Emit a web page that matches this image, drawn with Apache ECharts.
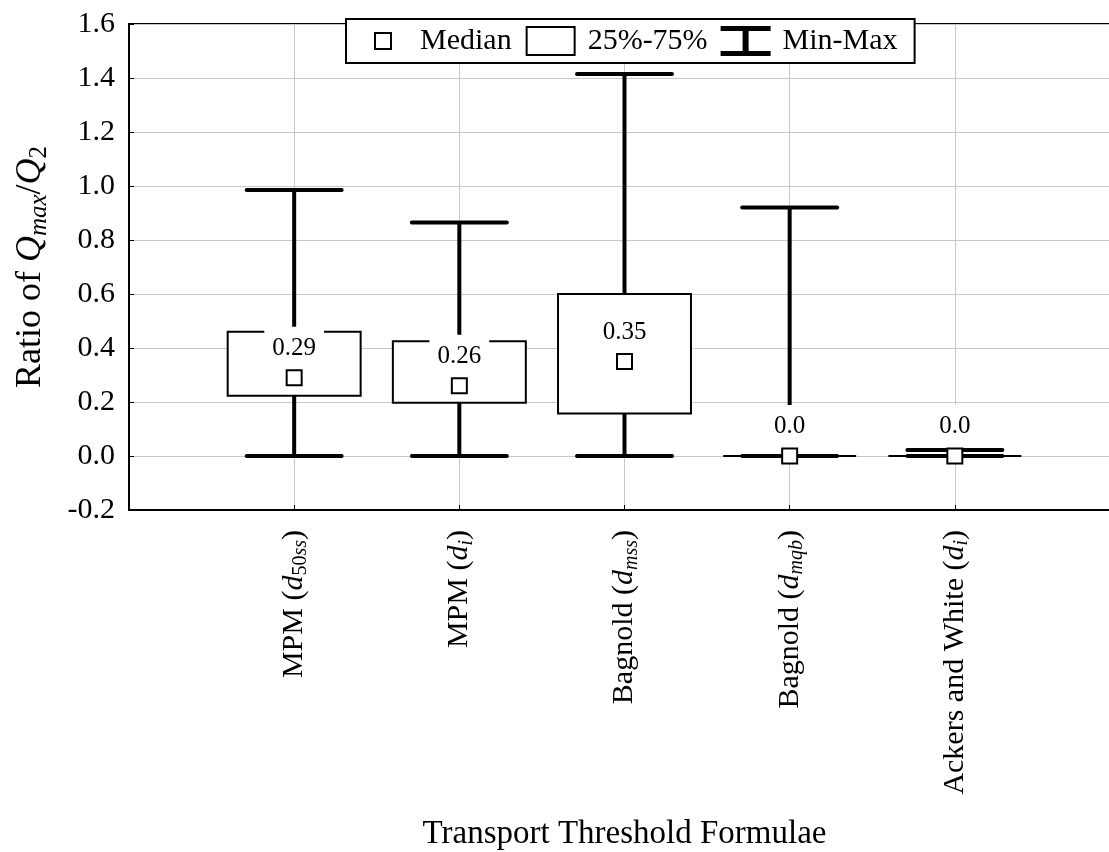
<!DOCTYPE html>
<html>
<head>
<meta charset="utf-8">
<script src="https://cdn.jsdelivr.net/npm/echarts@6/dist/echarts.min.js"></script>
<style>
  html, body { margin: 0; padding: 0; background: #fff; }
  #chart { width: 1109px; height: 852px; }
</style>
</head>
<body>
<div id="chart"></div>
<script>
// Transport threshold formulae (rich-text markup for italic symbols and subscripts)
const categories = [
  'MPM ({it|d}{sub|50}{subi|ss})',
  'MPM ({it|d}{subi|i})',
  'Bagnold ({it|d}{subi|mss})',
  'Bagnold ({it|d}{subi|mqb})',
  'Ackers and White ({it|d}{subi|i})'
];
// Ratio Qmax/Q2 statistics per formula
const minValues    = [0.0, 0.0, 0.0, 0.0, 0.0];
const q1Values     = [0.223, 0.197, 0.157, 0.0, 0.0];
const medianValues = [0.29, 0.26, 0.35, 0.0, 0.0];
const q3Values     = [0.46, 0.425, 0.60, 0.0, 0.0];
const maxValues    = [0.985, 0.865, 1.415, 0.92, 0.022];
const yTicks = { min: -0.2, max: 1.6, interval: 0.2 };

const FONT = '"Liberation Serif", "Times New Roman", serif';

// category axis padded with empty slots at both ends
const axisCategories = [''].concat(categories, ['']);

const subRich = {
  it:   { fontFamily: FONT, fontSize: 30, fontStyle: 'italic', color: '#000', lineHeight: 34 },
  sub:  { fontFamily: FONT, fontSize: 20, color: '#000', verticalAlign: 'bottom', lineHeight: 20 },
  subi: { fontFamily: FONT, fontSize: 20, fontStyle: 'italic', color: '#000', verticalAlign: 'bottom', lineHeight: 20 }
};

function fmtMedian(v) {
  return v.toFixed(2).replace(/0$/, '');
}

const rows = categories.map((c, i) => [i + 1, minValues[i], q1Values[i], medianValues[i], q3Values[i], maxValues[i]]);

const BOX_HALF = 0.4025;
const CAP_HALF = 0.2875;

function whiskerItem(params, api) {
  const x = api.value(0);
  const band = api.size([1, 0])[0];
  const pMin = api.coord([x, api.value(1)]);
  const pMax = api.coord([x, api.value(5)]);
  const cap = band * CAP_HALF;
  const style = { stroke: '#000', lineWidth: 4, lineCap: 'round' };
  return {
    type: 'group',
    children: [
      { type: 'line', shape: { x1: pMin[0], y1: pMin[1], x2: pMax[0], y2: pMax[1] }, style: { stroke: '#000', lineWidth: 4 } },
      { type: 'line', shape: { x1: pMin[0] - cap, y1: pMin[1], x2: pMin[0] + cap, y2: pMin[1] }, style },
      { type: 'line', shape: { x1: pMax[0] - cap, y1: pMax[1], x2: pMax[0] + cap, y2: pMax[1] }, style }
    ]
  };
}

function boxItem(params, api) {
  const x = api.value(0);
  const band = api.size([1, 0])[0];
  const pQ1 = api.coord([x, api.value(2)]);
  const pQ3 = api.coord([x, api.value(4)]);
  const half = band * BOX_HALF;
  return {
    type: 'rect',
    shape: { x: pQ1[0] - half, y: pQ3[1], width: half * 2, height: pQ1[1] - pQ3[1] },
    style: { fill: '#fff', stroke: '#000', lineWidth: 2 }
  };
}

function medianItem(params, api) {
  const x = api.value(0);
  const v = api.value(3);
  const p = api.coord([x, v]);
  return {
    type: 'group',
    children: [
      {
        type: 'text',
        z2: 10,
        style: {
          x: p[0], y: p[1] - 8,
          text: fmtMedian(v),
          font: '25px ' + FONT,
          fill: '#000',
          align: 'center',
          verticalAlign: 'bottom',
          backgroundColor: '#fff',
          padding: [9, 8, 9, 8]
        }
      },
      {
        type: 'rect',
        z2: 20,
        shape: { x: p[0] - 7.5, y: p[1] - 7.5, width: 15, height: 15 },
        style: { fill: '#fff', stroke: '#000', lineWidth: 2 }
      }
    ]
  };
}

const chart = echarts.init(document.getElementById('chart'), null, { renderer: 'canvas' });

chart.setOption({
  animation: false,
  backgroundColor: '#fff',
  grid: {
    left: 129, top: 24, right: -11, bottom: 342,
    containLabel: false,
    outerBoundsMode: 'none',
    show: true, borderColor: '#000', borderWidth: 2, backgroundColor: 'transparent'
  },
  legend: {
    left: 346, top: 19,
    padding: [6, 17, 6, 11],
    itemWidth: 50, itemHeight: 30, itemGap: 13,
    backgroundColor: '#fff', borderColor: '#000', borderWidth: 2, borderRadius: 0,
    selectedMode: false,
    textStyle: { fontFamily: FONT, fontSize: 30, color: '#000', padding: [0, 0, 0, 7] },
    data: [
      { name: 'Median', icon: 'path://M0,0M50,30M17,7h16v16h-16z',
        itemStyle: { color: '#fff', borderColor: '#000', borderWidth: 2 } },
      { name: '25%-75%', icon: 'path://M0,0M50,30M1,1h48v28h-48z',
        itemStyle: { color: '#fff', borderColor: '#000', borderWidth: 2 } },
      { name: 'Min-Max', icon: 'path://M0,0h50v5h-22v20h22v5h-50v-5h22v-20h-22z',
        itemStyle: { color: '#000', borderWidth: 0 } }
    ]
  },
  xAxis: {
    type: 'category',
    data: axisCategories,
    boundaryGap: false,
    name: 'Transport Threshold Formulae',
    nameLocation: 'middle',
    nameGap: 308,
    nameTextStyle: { fontFamily: FONT, fontSize: 33, color: '#000' },
    axisLine: { show: true, onZero: false, lineStyle: { color: '#000', width: 2 } },
    axisTick: { show: true, inside: true, length: 5, interval: 0, lineStyle: { color: '#000', width: 1 } },
    splitLine: { show: true, interval: 0, lineStyle: { color: '#c8c8c8', width: 1 } },
    axisLabel: {
      interval: 0, rotate: 90, margin: 20,
      fontFamily: FONT, fontSize: 30, color: '#000',
      rich: subRich
    }
  },
  yAxis: {
    type: 'value',
    min: yTicks.min, max: yTicks.max, interval: yTicks.interval,
    name: '{n|Ratio of }{q|Q}{s|max}{n|/}{q|Q}{t|2}',
    nameLocation: 'middle',
    nameGap: 77,
    nameRotate: 90,
    nameTextStyle: {
      rich: {
        n: { fontFamily: FONT, fontSize: 36, color: '#000', lineHeight: 42 },
        q: { fontFamily: FONT, fontSize: 36, fontStyle: 'italic', color: '#000', lineHeight: 42 },
        s: { fontFamily: FONT, fontSize: 25, fontStyle: 'italic', color: '#000', verticalAlign: 'bottom', lineHeight: 25 },
        t: { fontFamily: FONT, fontSize: 25, color: '#000', verticalAlign: 'bottom', lineHeight: 25 }
      }
    },
    axisLine: { show: true, onZero: false, lineStyle: { color: '#000', width: 2 } },
    axisTick: { show: true, inside: true, length: 5, lineStyle: { color: '#000', width: 1 } },
    splitLine: { show: true, lineStyle: { color: '#c8c8c8', width: 1 } },
    axisLabel: {
      margin: 14,
      fontFamily: FONT, fontSize: 30, color: '#000',
      formatter: v => v.toFixed(1)
    }
  },
  series: [
    {
      name: 'Min-Max', type: 'custom', renderItem: whiskerItem,
      data: rows, encode: { x: 0, y: [1, 5] }, z: 3, clip: false
    },
    {
      name: '25%-75%', type: 'custom', renderItem: boxItem,
      data: rows, encode: { x: 0, y: [2, 4] }, z: 4, clip: false
    },
    {
      name: 'Median', type: 'custom', renderItem: medianItem,
      data: rows, encode: { x: 0, y: 3 }, z: 5, clip: false
    }
  ]
});
</script>
</body>
</html>
